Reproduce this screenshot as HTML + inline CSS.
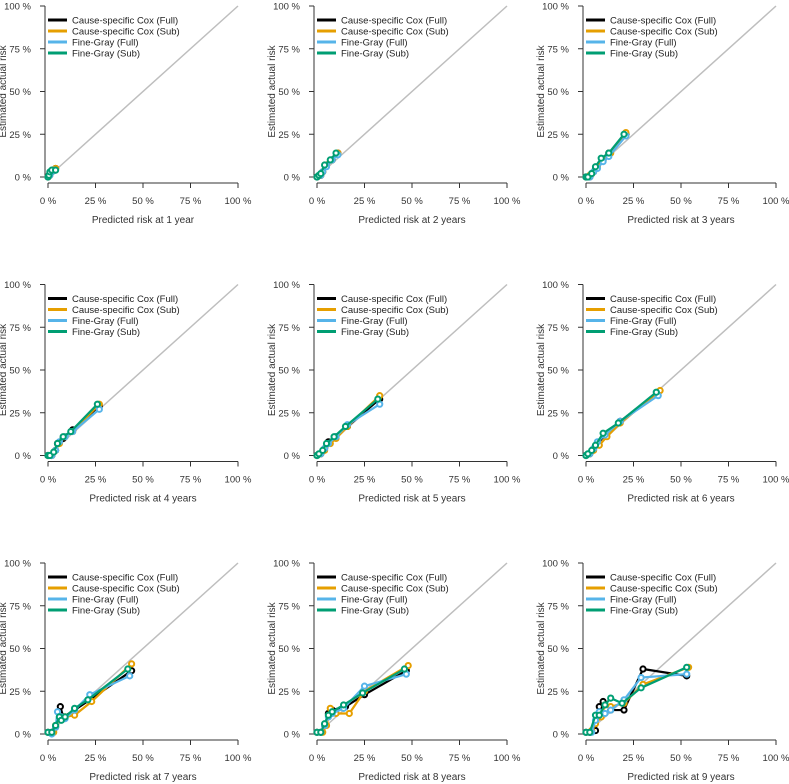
<!DOCTYPE html>
<html><head><meta charset="utf-8"><style>
body{margin:0;background:#fff}
svg{display:block;font-family:"Liberation Sans",sans-serif}
</style></head><body>
<svg id="c" width="789" height="784"></svg>
<script>
const years = [1,2,3,4,5,6,7,8,9];
const xTicks = [0,25,50,75,100];
const tickLabels = ["0 %","25 %","50 %","75 %","100 %"];
const seriesNames = ["Cause-specific Cox (Full)","Cause-specific Cox (Sub)","Fine-Gray (Full)","Fine-Gray (Sub)"];
const seriesColors = ["#000000","#E69F00","#56B4E9","#009E73"];
const csFull = [
 [[0,0],[0.5,1],[1,2],[2,3],[3.5,4],[4,5]],
 [[0,0],[2,1],[3,3],[5,7],[8,10],[11,14]],
 [[0,0],[2,0],[3,2],[5,5],[9,10],[12,14],[21,25]],
 [[0,0],[2,0],[4,3],[5,7],[8,10],[13,15],[27,29]],
 [[0,0],[2,1],[4,4],[6,8],[10,11],[16,17],[33,33]],
 [[0,0],[2,1],[4,4],[6,7],[10,12],[18,20],[38,37]],
 [[0,1],[2,1],[4,4],[6.5,16],[8,10],[14,14],[22,20],[44,37]],
 [[0,1],[2,1],[4,5],[6,12],[8,14],[15,16],[25,23],[47,37]],
 [[0,1],[2,1],[5,2],[7,16],[9,19],[13,14],[20,14],[30,38],[53,34]]
];
const csSub = [
 [[0,0],[1,1],[2,3],[4,5]],
 [[0,0],[2,1],[3,3],[5,7],[8,10],[11,14]],
 [[0,0],[2,1],[4,3],[6,6],[9,10],[13,14],[21,26]],
 [[0,0],[2,0],[4,3],[6,7],[9,11],[13,14],[27,30]],
 [[0,0],[2,1],[4,3],[7,7],[10,10],[16,17],[33,35]],
 [[0,0],[2,1],[4,3],[7,6],[11,11],[18,19],[39,38]],
 [[0,1],[3,1],[4,5],[6,9],[9,10],[14,11],[23,19],[44,41]],
 [[0,1],[3,1],[5,5],[7,15],[10,12],[17,12],[25,25],[48,40]],
 [[0,1],[3,2],[5,6],[8,10],[10,17],[13,16],[20,18],[30,29],[54,39]]
];
const fgFull = [
 [[0,0],[1,1],[2,3],[3.5,4]],
 [[0,0],[2,1],[3,3],[5,6],[8,10],[11,13]],
 [[0,0],[2,0],[4,3],[6,5],[9,9],[12,12],[21,24]],
 [[0,0],[2,0],[4,3],[6,8],[9,11],[13,14],[27,27]],
 [[0,0],[2,1],[4,4],[6,7],[10,11],[16,18],[33,30]],
 [[0,0],[2,1],[4,4],[6,8],[10,12],[18,20],[38,35]],
 [[0,1],[2,0],[4,4],[5,13],[7,10],[9,9],[14,14],[22,23],[43,34]],
 [[0,1],[2,1],[4,5],[6,10],[8,12],[14,15],[25,28],[47,35]],
 [[0,1],[3,1],[5,8],[7,13],[10,12],[13,14],[20,20],[29,33],[53,35]]
];
const fgSub = [
 [[0,0],[0.5,1],[1,3],[2,4],[4,4]],
 [[0,0],[1,1],[2,2],[4,7],[7,10],[10,14]],
 [[0,0],[1,0],[3,2],[5,6],[8,11],[12,14],[20,25]],
 [[0,0],[1,0],[3,2],[5,7],[8,11],[12,14],[26,30]],
 [[0,0],[1,1],[3,3],[5,7],[9,11],[15,17],[32,33]],
 [[0,0],[1,1],[3,3],[5,6],[9,13],[17,19],[37,37]],
 [[0,1],[2,1],[4,5],[6,10],[7,8],[9,10],[14,15],[21,20],[42,38]],
 [[0,1],[2,1],[4,6],[6,11],[8,13],[14,17],[24,24],[46,38]],
 [[0,1],[2,1],[5,11],[7,11],[10,17],[13,21],[19,18],[29,27],[53,39]]
];
const allSeries = [csFull, csSub, fgFull, fgSub];
const colX0 = [48,317,586], rowY0 = [177,455.5,734], W = 190, H = 171;
const NS = "http://www.w3.org/2000/svg";
const svg = document.getElementById('c');
function mk(tag, attrs, parent, text){const e=document.createElementNS(NS,tag);for(const k in attrs)e.setAttribute(k,attrs[k]);if(text!=null)e.textContent=text;(parent||svg).appendChild(e);return e;}
years.forEach((yr,p)=>{
  const x0 = colX0[p%3], y0 = rowY0[Math.floor(p/3)];
  const sx = v => x0 + v/100*W, sy = v => y0 - v/100*H;
  const g = mk('g',{});
  
  
  const ax = mk('g',{stroke:'#333','stroke-width':1},g);
  
  
  mk('line',{x1:sx(0),x2:sx(100),y1:y0+6,y2:y0+6},ax);
  const ay = mk('g',{stroke:'#333','stroke-width':1},g);
  
  
  mk('line',{x1:x0-3,x2:x0-3,y1:sy(0),y2:sy(100)},ay);
  xTicks.forEach((t,i)=>{
    mk('line',{x1:sx(t),x2:sx(t),y1:y0+6,y2:y0+11},ax);
    const tx = mk('text',{x:sx(t),y:y0+27,'text-anchor':'middle','font-size':9.5,fill:'#333',stroke:'none'},g,tickLabels[i]);
    
    
    mk('line',{x1:x0-3,x2:x0-8,y1:sy(t),y2:sy(t)},ay);
    const ty = mk('text',{x:x0-17,y:sy(t)+3.5,'text-anchor':'end','font-size':9.5,fill:'#333'},g,tickLabels[i]);
    
    
  });
  const xt = mk('text',{x:sx(50),y:y0+46,'text-anchor':'middle','font-size':10,fill:'#333'},g,'Predicted risk at '+yr+(yr===1?' year':' years'));
  
  
  const yt = mk('text',{transform:`translate(${x0-42},${sy(50)}) rotate(-90)`,'text-anchor':'middle','font-size':10,fill:'#333'},g,'Estimated actual risk');
  
  
  const diag = mk('line',{x1:sx(0),y1:sy(0),x2:sx(100),y2:sy(100),stroke:'#bebebe','stroke-width':1.5},g);
  
  
  allSeries.forEach((s,si)=>{
    const pts = s[p];
    const sg = mk('g',{},g);
    
    
    mk('polyline',{points:pts.map(d=>sx(d[0])+','+sy(d[1])).join(' '),fill:'none',stroke:seriesColors[si],'stroke-width':2.2},sg);
    pts.forEach(d=>{
      const c = mk('circle',{cx:sx(d[0]),cy:sy(d[1]),r:2.6,fill:'#fff',stroke:seriesColors[si],'stroke-width':2},sg);
      
      
    });
  });
  const lg = mk('g',{},g);
  
  
  seriesNames.forEach((n,i)=>{
    const ly = sy(100) + 14 + i*11;
    const le = mk('g',{},lg);
    
    
    mk('line',{x1:x0,x2:x0+19,y1:ly,y2:ly,stroke:seriesColors[i],'stroke-width':3},le);
    mk('text',{x:x0+24,y:ly+3.5,'font-size':9.5,fill:'#222'},le,n);
  });
});
</script>
</body></html>
